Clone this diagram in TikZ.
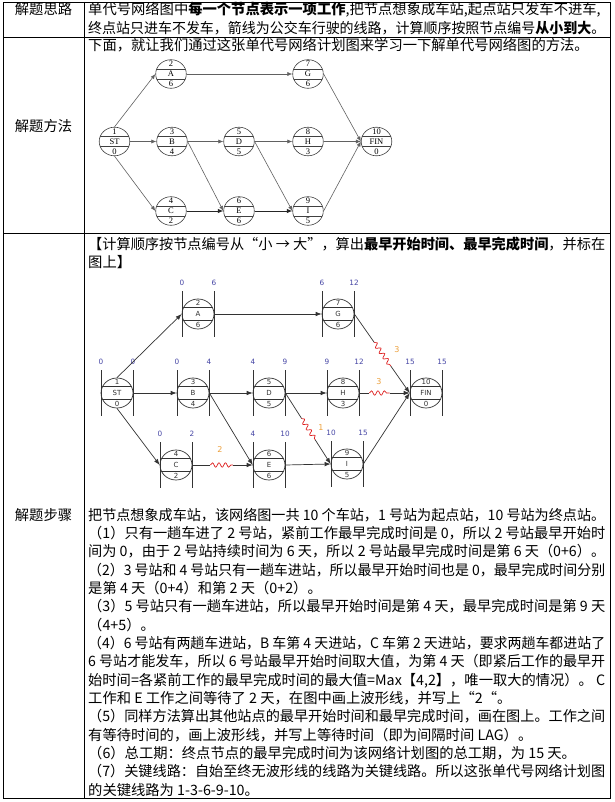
\documentclass[tikz,border=0pt]{standalone}
\usepackage{graphicx}
\usepackage{fontspec}
\setmainfont{Noto Sans CJK SC}
\newfontfamily\dserif{Liberation Serif}
\newfontfamily\dsans{DejaVu Sans}
\usetikzlibrary{arrows.meta,decorations.pathmorphing,calc,shapes.geometric}
\definecolor{esblue}{RGB}{70,70,165}
\definecolor{lagor}{RGB}{236,160,60}
\definecolor{wavered}{RGB}{222,30,30}
\newcommand\cjkfs{\fontsize{14.3}{17}\selectfont}
\newsavebox\fitlinebox
\newcommand\fitline[1]{\sbox\fitlinebox{#1}\ifdim\wd\fitlinebox>517pt\resizebox{517pt}{\ht\fitlinebox}{\usebox\fitlinebox}\else\usebox\fitlinebox\fi}
\tikzset{
  tbl/.style={line width=0.8pt},
  txt/.style={anchor=base west, inner sep=0pt, font=\cjkfs},
  lbl/.style={anchor=base, inner sep=0pt, font=\cjkfs},
  dAn/.style={ellipse, draw=black!75, line width=0.6pt, minimum width=30.6pt, minimum height=28.6pt, inner sep=0pt,
    path picture={\draw[black!75,line width=0.5pt]
      ([yshift=5pt]path picture bounding box.west) -- ([yshift=5pt]path picture bounding box.east)
      ([yshift=-5pt]path picture bounding box.west) -- ([yshift=-5pt]path picture bounding box.east);}},
  dAt/.style={inner sep=0pt, font=\dserif\fontsize{8.5}{9}\selectfont},
  dAe/.style={draw=black!62, line width=0.6pt, -{Latex[length=5pt,width=4pt]}},
  dAeb/.style={draw=black!85, line width=0.9pt, -{Latex[length=5.5pt,width=4.5pt]}},
  dBn/.style={ellipse, draw=black!80, line width=0.7pt, minimum width=32pt, minimum height=30pt, inner sep=0pt,
    path picture={\draw[black!80,line width=0.6pt]
      ([yshift=6.5pt]path picture bounding box.west) -- ([yshift=6.5pt]path picture bounding box.east)
      ([yshift=-6.5pt]path picture bounding box.west) -- ([yshift=-6.5pt]path picture bounding box.east);}},
  dBt/.style={inner sep=0pt, font=\dsans\fontsize{7}{8}\selectfont, text=black!80},
  dBbar/.style={draw=black!80, line width=0.7pt},
  dBnum/.style={inner sep=0pt, font=\dsans\fontsize{7.3}{8}\selectfont, text=esblue},
  dBline/.style={draw=black!80, line width=0.7pt},
  dBe/.style={draw=black!80, line width=0.7pt, -{Latex[length=6pt,width=4.5pt]}},
  wave/.style={draw=wavered, line width=0.7pt, decorate, decoration={snake, amplitude=2.2pt, segment length=6.5pt}},
  lag/.style={inner sep=0pt, font=\dsans\fontsize{8}{9}\selectfont, text=lagor},
}
\newcommand\dAnodeM[5]{%
  \node[dAn] (#1) at (#2) {};
  \node[dAt] (#1-n) at ([yshift=10pt]#1.center) {#3};
  \node[dAt] (#1-l) at (#1.center) {#4};
  \node[dAt] (#1-d) at ([yshift=-10pt]#1.center) {#5};
}
\newcommand\dBnodeM[7]{%
  \node[dBn] (#1) at (#2) {};
  \node[dBt] (#1-n) at ([yshift=11.3pt]#1.center) {#3};
  \node[dBt] (#1-l) at (#1.center) {#4};
  \node[dBt] (#1-d) at ([yshift=-11.3pt]#1.center) {#5};
  \draw[dBbar] ([xshift=-16pt,yshift=23pt]#1.center) -- ([xshift=-16pt,yshift=-23pt]#1.center);
  \draw[dBbar] ([xshift=16pt,yshift=23pt]#1.center) -- ([xshift=16pt,yshift=-23pt]#1.center);
  \node[dBnum] (#1-es) at ([xshift=-16pt,yshift=31pt]#1.center) {#6};
  \node[dBnum] (#1-ef) at ([xshift=16pt,yshift=31pt]#1.center) {#7};
}
\begin{document}
\begin{tikzpicture}[x=1pt,y=-1pt]
\useasboundingbox[fill=white] (0,0) rectangle (614,802);
% table
\draw[tbl] (3,2) rectangle (610,798);
\draw[tbl] (84,2) -- (84,798);
\draw[tbl] (3,37.5) -- (610,37.5);
\draw[tbl] (3,233) -- (610,233);
% left column labels
\node[lbl] (h1) at (43.5,15) {解题思路};
\node[lbl] (h2) at (43.5,132) {解题方法};
\node[lbl] (h3) at (43.5,520) {解题步骤};
% row 1
\node[txt] (r1a) at (88,15) {\fitline{单代号网络图中\textbf{每一个节点表示一项工作},把节点想象成车站,起点站只发车不进车,}};
\node[txt] (r1b) at (88,33.5) {\fitline{终点站只进车不发车，箭线为公交车行驶的线路，计算顺序按照节点编号\textbf{从小到大}。}};
% row 2
\node[txt] (r2a) at (88,51) {下面，就让我们通过这张单代号网络计划图来学习一下解单代号网络图的方法。};
% diagram 1
\dAnodeM{a1}{114.5,141.5}{1}{ST}{0}
\dAnodeM{a2}{171,74}{2}{A}{6}
\dAnodeM{a3}{172,141.5}{3}{B}{4}
\dAnodeM{a4}{171,211}{4}{C}{2}
\dAnodeM{a5}{239,141.5}{5}{D}{5}
\dAnodeM{a6}{239,211}{6}{E}{6}
\dAnodeM{a7}{308,74}{7}{G}{6}
\dAnodeM{a8}{308,141.5}{8}{H}{3}
\dAnodeM{a9}{308,211}{9}{I}{5}
\dAnodeM{a10}{376.5,141.5}{10}{FIN}{0}
\draw[dAe] (a1.north) -- (a2.west);
\draw[dAe] (a1.east) -- (a3.west);
\draw[dAe] (a1.south) -- (a4.west);
\draw[dAe] (a2.east) -- (a7.west);
\draw[dAe] (a3.east) -- (a5.west);
\draw[dAe] (a3.east) -- (a6.west);
\draw[dAeb] (a4.east) -- (a6.west);
\draw[dAe] (a5.east) -- (a8.west);
\draw[dAe] (a5.east) -- (a9.west);
\draw[dAeb] (a6.east) -- (a9.west);
\draw[dAe] (a7.east) -- (a10.west);
\draw[dAe] (a8.east) -- (a10.west);
\draw[dAe] (a9.east) -- (a10.west);
% row 3 heading
\node[txt] (r3h1) at (88,249) {\fitline{【计算顺序按节点编号从“小 → 大”，算出\textbf{最早开始时间、最早完成时间}，并标在}};
\node[txt] (r3h2) at (88,267) {图上】};
% diagram 2
\dBnodeM{b1}{117,393}{1}{ST}{0}{0}{0}
\dBnodeM{b2}{198,314}{2}{A}{6}{0}{6}
\dBnodeM{b3}{193,393}{3}{B}{4}{0}{4}
\dBnodeM{b4}{176,465}{4}{C}{2}{0}{2}
\dBnodeM{b5}{269,393}{5}{D}{5}{4}{9}
\dBnodeM{b6}{269,465}{6}{E}{6}{4}{10}
\dBnodeM{b7}{338,314}{7}{G}{6}{6}{12}
\dBnodeM{b8}{343,393}{8}{H}{3}{9}{12}
\dBnodeM{b9}{347,464}{9}{I}{5}{10}{15}
\dBnodeM{b10}{426,393}{10}{FIN}{0}{15}{15}
\draw[dBe] (b1.north) -- (b2.west);
\draw[dBe] (b1.east) -- (b3.west);
\draw[dBe] (b1.south) -- (b4.west);
\draw[dBe] (b2.east) -- (b7.west);
\draw[dBe] (b3.east) -- (b5.west);
\draw[dBe] (b3.east) -- (b6.west);
\draw[dBe] (b5.east) -- (b8.west);
\draw[dBe] (b6.east) -- (b9.west);
\draw[dBe] (b9.east) -- (b10.west);
% 4 -> 6 with lag 2
\draw[dBline] (b4.east) -- ($(b4.east)!0.3!(b6.west)$) coordinate (w1a);
\draw[wave] (w1a) -- ($(b4.east)!0.67!(b6.west)$) coordinate (w1b);
\draw[dBe] (w1b) -- (b6.west);
\node[lag] (g1) at (220,450) {2};
% 5 -> 9 with lag 1
\draw[dBline] (b5.east) -- ($(b5.east)!0.36!(b9.west)$) coordinate (w2a);
\draw[wave] (w2a) -- ($(b5.east)!0.66!(b9.west)$) coordinate (w2b);
\draw[dBe] (w2b) -- (b9.west);
\node[lag] (g2) at (321,428) {1};
% 7 -> 10 with lag 3
\draw[dBline] (b7.east) -- ($(b7.east)!0.36!(b10.west)$) coordinate (w3a);
\draw[wave] (w3a) -- ($(b7.east)!0.66!(b10.west)$) coordinate (w3b);
\draw[dBe] (w3b) -- (b10.west);
\node[lag] (g3) at (397,350) {3};
% 8 -> 10 with lag 3
\draw[dBline] (b8.east) -- ($(b8.east)!0.2!(b10.west)$) coordinate (w4a);
\draw[wave] (w4a) -- ($(b8.east)!0.6!(b10.west)$) coordinate (w4b);
\draw[dBe] (w4b) -- (b10.west);
\node[lag] (g4) at (379,382) {3};
% row 3 text
\foreach \i/\t in {
 0/{把节点想象成车站，该网络图一共 10 个车站，1 号站为起点站，10 号站为终点站。},
 1/{（1）只有一趟车进了 2 号站，紧前工作最早完成时间是 0，所以 2 号站最早开始时},
 2/{间为 0，由于 2 号站持续时间为 6 天，所以 2 号站最早完成时间是第 6 天（0+6）。},
 3/{（2）3 号站和 4 号站只有一趟车进站，所以最早开始时间也是 0，最早完成时间分别},
 4/{是第 4 天（0+4）和第 2 天（0+2）。},
 5/{（3）5 号站只有一趟车进站，所以最早开始时间是第 4 天，最早完成时间是第 9 天},
 6/{（4+5）。},
 7/{（4）6 号站有两趟车进站，B 车第 4 天进站，C 车第 2 天进站，要求两趟车都进站了},
 8/{6 号站才能发车，所以 6 号站最早开始时间取大值，为第 4 天（即紧后工作的最早开},
 9/{始时间=各紧前工作的最早完成时间的最大值=Max【4,2】，唯一取大的情况）。 C},
 10/{工作和 E 工作之间等待了 2 天，在图中画上波形线，并写上“2“。},
 11/{（5）同样方法算出其他站点的最早开始时间和最早完成时间，画在图上。工作之间},
 12/{有等待时间的，画上波形线，并写上等待时间（即为间隔时间 LAG）。},
 13/{（6）总工期：终点节点的最早完成时间为该网络计划图的总工期，为 15 天。},
 14/{（7）关键线路：自始至终无波形线的线路为关键线路。所以这张单代号网络计划图},
 15/{的关键线路为 1-3-6-9-10。}}
 {\node[txt] (s\i) at (88,520+\i*18.35) {\fitline{\t}};}
\end{tikzpicture}
\end{document}
